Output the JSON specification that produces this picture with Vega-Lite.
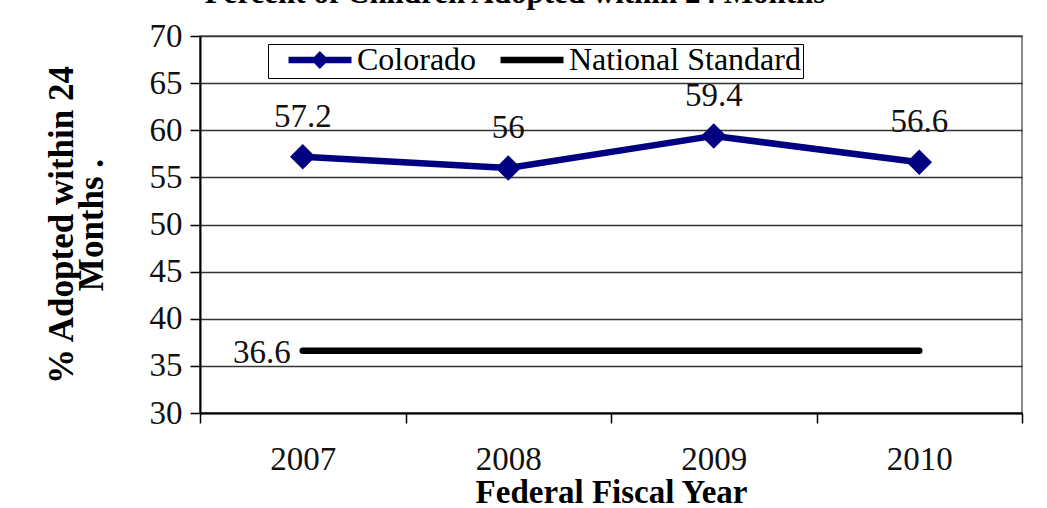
{
  "$schema": "https://vega.github.io/schema/vega-lite/v6.json",
  "autosize": "none",
  "padding": {"left": 200, "top": 36, "right": 25, "bottom": 95},
  "width": 822,
  "height": 377,
  "background": "white",
  "title": {
    "text": "Percent of Children Adopted within 24 Months",
    "font": "Liberation Serif",
    "fontSize": 31,
    "fontWeight": "bold",
    "color": "black",
    "anchor": "middle",
    "dx": -96,
    "dy": 14,
    "baseline": "alphabetic",
    "offset": 0
  },
  "config": {
    "view": {"stroke": "#888888", "strokeWidth": 2},
    "axis": {"labelFont": "Liberation Serif", "titleFont": "Liberation Serif", "labelColor": "#111111", "titleColor": "black"}
  },
  "data": {
    "values": [
      {"year": "2007", "series": "Colorado", "value": 57.2},
      {"year": "2008", "series": "Colorado", "value": 56},
      {"year": "2009", "series": "Colorado", "value": 59.4},
      {"year": "2010", "series": "Colorado", "value": 56.6},
      {"year": "2007", "series": "National Standard", "value": 36.6},
      {"year": "2008", "series": "National Standard", "value": 36.6},
      {"year": "2009", "series": "National Standard", "value": 36.6},
      {"year": "2010", "series": "National Standard", "value": 36.6}
    ]
  },
  "encoding": {
    "x": {
      "field": "year", "type": "ordinal",
      "scale": {"type": "band", "paddingInner": 0, "paddingOuter": 0},
      "axis": {
        "title": "Federal Fiscal Year", "titleFontSize": 33, "titleFontWeight": "bold", "titlePadding": 0,
        "labelAngle": 0, "labelFontSize": 33, "labelPadding": 20,
        "tickBand": "extent", "tickSize": 10, "tickColor": "black", "tickWidth": 1.5,
        "domainColor": "black", "domainWidth": 2, "grid": false
      }
    },
    "y": {
      "field": "value", "type": "quantitative",
      "scale": {"domain": [30, 70], "nice": false, "zero": false},
      "axis": {
        "title": ["% Adopted within 24", "Months ."], "titleFontSize": 35, "titleFontWeight": "bold",
        "titleLineHeight": 30, "titlePadding": 40,
        "values": [30, 35, 40, 45, 50, 55, 60, 65, 70],
        "labelFontSize": 33, "labelPadding": 8,
        "tickSize": 10, "tickColor": "black", "tickWidth": 1.5,
        "domainColor": "black", "domainWidth": 2,
        "grid": true, "gridColor": "#333333", "gridWidth": 1.5
      }
    }
  },
  "layer": [
    {
      "mark": {"type": "line", "strokeWidth": 6.5, "strokeCap": "round", "strokeJoin": "round"},
      "encoding": {
        "color": {
          "field": "series", "type": "nominal",
          "scale": {"domain": ["Colorado", "National Standard"], "range": ["#000080", "#000000"]},
          "legend": {
            "title": null, "orient": "none", "legendX": 68, "legendY": 8, "direction": "horizontal",
            "labelFont": "Liberation Serif", "labelFontSize": 32, "labelColor": "black", "labelOffset": 2, "labelLimit": 400,
            "symbolSize": 6084, "clipHeight": 28, "columnPadding": 5, "padding": 2,
            "strokeColor": "black", "fillColor": "white",
            "encode": {"symbols": {"update": {
              "shape": [
                {"test": "datum.value === 'Colorado'", "value": "M-0.615,0L1,0M0.08,0L0.19,-0.11L0.3,0L0.19,0.11Z"},
                {"value": "M-0.615,0L1,0"}
              ],
              "stroke": {"scale": "color", "field": "value"},
              "fill": {"scale": "color", "field": "value"},
              "strokeWidth": {"value": 6.5},
              "opacity": {"value": 1}
            }}}
          }
        }
      }
    },
    {
      "transform": [{"filter": "datum.series === 'Colorado'"}],
      "mark": {"type": "point", "shape": "diamond", "filled": true, "size": 650, "color": "#000080", "opacity": 1}
    },
    {
      "transform": [{"filter": "datum.series === 'Colorado'"}],
      "mark": {"type": "text", "dy": -40, "font": "Liberation Serif", "fontSize": 33, "color": "#111111"},
      "encoding": {"text": {"field": "value", "type": "quantitative"}}
    },
    {
      "transform": [{"filter": "datum.series === 'National Standard' && datum.year === '2007'"}],
      "mark": {"type": "text", "align": "right", "baseline": "middle", "dx": -12, "dy": 2, "font": "Liberation Serif", "fontSize": 33, "color": "#111111"},
      "encoding": {"text": {"field": "value", "type": "quantitative"}}
    }
  ]
}
